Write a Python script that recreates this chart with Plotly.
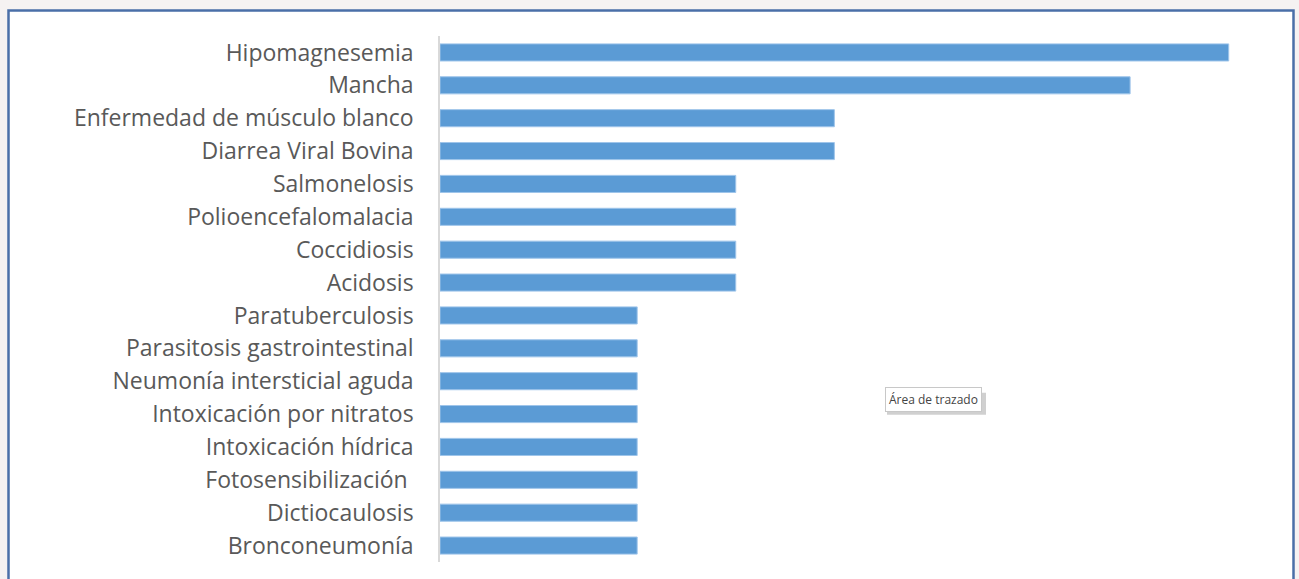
import plotly.graph_objects as go

categories = [
    "Hipomagnesemia", "Mancha", "Enfermedad de músculo blanco", "Diarrea Viral Bovina",
    "Salmonelosis", "Polioencefalomalacia", "Coccidiosis", "Acidosis",
    "Paratuberculosis", "Parasitosis gastrointestinal", "Neumonía intersticial aguda",
    "Intoxicación por nitratos", "Intoxicación hídrica", "Fotosensibilización ",
    "Dictiocaulosis", "Bronconeumonía",
]
values = [8, 7, 4, 4, 3, 3, 3, 3, 2, 2, 2, 2, 2, 2, 2, 2]

W, H = 1299, 579
L, R = 440, 1278
T, B = 35.5, 562.5
xmax = 8.5

fig = go.Figure(go.Bar(
    x=values, y=categories, orientation="h",
    marker=dict(color="#5b9bd5", line=dict(color="#9fc5ea", width=1)),
))

def px(x):
    return (x - L) / (R - L)

def py(y):
    return (B - y) / (B - T)

fig.update_layout(
    width=W, height=H,
    margin=dict(l=L, r=W - R, t=T, b=H - B, pad=0),
    paper_bgcolor="#f5f2f2",
    plot_bgcolor="rgba(0,0,0,0)",
    bargap=0.48,
    showlegend=False,
    font=dict(family="Open Sans, sans-serif", color="#595959"),
    xaxis=dict(range=[0, xmax], showticklabels=False, showgrid=False,
               zeroline=False, showline=False, fixedrange=True),
    yaxis=dict(autorange="reversed", showgrid=False, zeroline=False,
               showline=True, linecolor="#d9d9d9", linewidth=1.5,
               ticks="outside", ticklen=20, tickcolor="rgba(0,0,0,0)",
               tickfont=dict(size=23, color="#595959")),
    shapes=[
        dict(type="rect", xref="paper", yref="paper", layer="below",
             x0=px(8.5), x1=px(1293.5), y0=py(600), y1=py(10),
             fillcolor="white", line=dict(color="#4a6fa8", width=2.5)),
        dict(type="rect", xref="paper", yref="paper", layer="above",
             x0=px(887), x1=px(986), y0=py(415), y1=py(393),
             fillcolor="rgba(120,120,120,0.35)", line=dict(width=0)),
    ],
    annotations=[dict(text="Área de trazado", xref="paper", yref="paper",
                      x=px(933), y=py(400), xanchor="center", yanchor="middle",
                      showarrow=False,
                      font=dict(family="Open Sans, sans-serif", size=12, color="#444444"),
                      bgcolor="white", bordercolor="#c8c8c8", borderwidth=1, borderpad=3)],
)

fig.write_html("out.html")
